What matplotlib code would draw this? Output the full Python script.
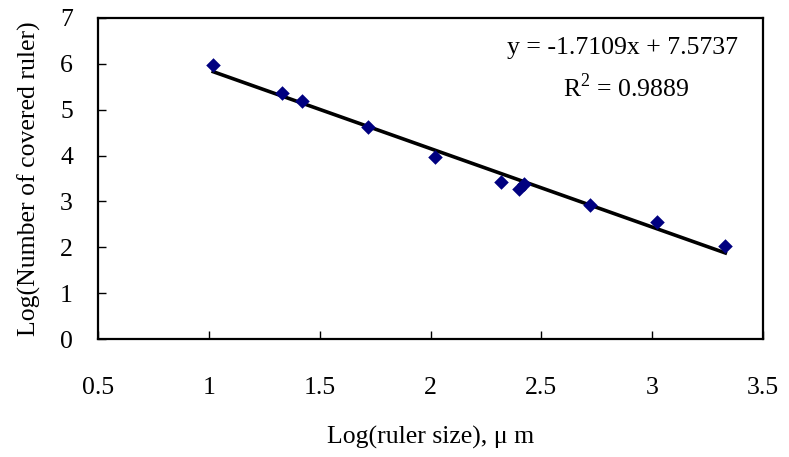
import matplotlib
matplotlib.use('Agg')
import matplotlib.pyplot as plt
import numpy as np

plt.rcParams['font.family'] = ['Liberation Serif', 'Noto Sans CJK TC', 'DejaVu Serif']
plt.rcParams['mathtext.fontset'] = 'custom'
plt.rcParams['mathtext.rm'] = 'Liberation Serif'

# data
log_ruler = [1.02, 1.33, 1.42, 1.72, 2.02, 2.32, 2.40, 2.42, 2.72, 3.02, 3.33]
log_count = [5.98, 5.36, 5.20, 4.62, 3.96, 3.43, 3.27, 3.39, 2.93, 2.56, 2.02]

slope = -1.7109
intercept = 7.5737
r2 = 0.9889

xticks = [0.5, 1, 1.5, 2, 2.5, 3, 3.5]
yticks = [0, 1, 2, 3, 4, 5, 6, 7]

fig = plt.figure(figsize=(7.89, 4.57), dpi=100)
ax = fig.add_axes([98 / 789, 1 - 339 / 457, (763 - 98) / 789, (339 - 18) / 457])

fit_x = np.array([min(log_ruler), max(log_ruler)])
ax.plot(fit_x, slope * fit_x + intercept, color='black', lw=2.6, zorder=2)
ax.scatter(log_ruler, log_count, marker='D', s=55, color='#000080', zorder=3, linewidths=0)

ax.set_xlim(0.5, 3.5)
ax.set_ylim(0, 7)
ax.set_xticks(xticks)
ax.set_xticklabels(['0.5', '1', '1.5', '2', '2.5', '3', '3.5'])
ax.set_yticks(yticks)
ax.tick_params(direction='in', length=6, width=1, labelsize=18.5)
ax.tick_params(axis='y', pad=18)
ax.tick_params(axis='x', pad=27)
for sp in ax.spines.values():
    sp.set_linewidth(1.6)

ax.set_xlabel('Log(ruler size), \u03bc m', fontsize=18.5, labelpad=20)
ax.set_ylabel('Log(Number of covered ruler)', fontsize=18.5, labelpad=14)

ax.text(0.789, 0.906, 'y = -1.7109x + 7.5737', transform=ax.transAxes,
        ha='center', va='center', fontsize=18.5)
ax.text(0.795, 0.782, 'R$^2$ = %.4f' % r2, transform=ax.transAxes,
        ha='center', va='center', fontsize=18.5)

fig.savefig('out.png', dpi=100, facecolor='white')
